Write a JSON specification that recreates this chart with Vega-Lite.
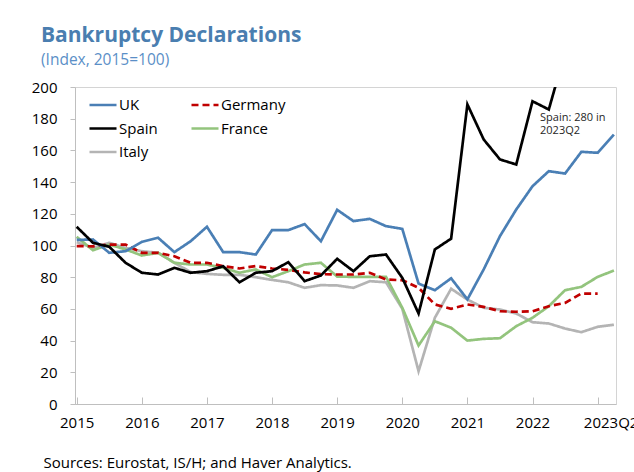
{
  "$schema": "https://vega.github.io/schema/vega-lite/v6.json",
  "width": 541,
  "height": 317,
  "autosize": {"type": "none"},
  "padding": {"left": 75, "top": 87, "right": 18, "bottom": 68},
  "background": "white",
  "config": {
    "font": "Open Sans",
    "view": {"stroke": "#d4d4d4", "strokeWidth": 1}
  },
  "title": {
    "text": "Bankruptcy Declarations",
    "subtitle": "(Index, 2015=100)",
    "anchor": "start",
    "frame": "group",
    "dx": -34,
    "offset": 12,
    "fontSize": 21,
    "fontWeight": "bold",
    "color": "#4a7eb0",
    "subtitleFontSize": 15.5,
    "subtitleColor": "#5b8fc7",
    "subtitlePadding": 7
  },
  "encoding": {
    "x": {
      "field": "t",
      "type": "quantitative",
      "scale": {"domain": [2014.974, 2023.282], "nice": false, "zero": false},
      "axis": {
        "values": [2015, 2016, 2017, 2018, 2019, 2020, 2021, 2022, 2023],
        "format": "d",
        "labelExpr": "datum.value == 2023 ? '2023Q2' : datum.label",
        "labelOffset": {"condition": {"test": "datum.value == 2023", "value": 13}, "value": 0},
        "tickSize": -7,
        "tickColor": "#bfbfbf",
        "domainColor": "#bfbfbf",
        "labelFontSize": 15,
        "labelColor": "#000000",
        "labelPadding": 18,
        "labelFlush": false,
        "labelOverlap": false,
        "grid": false,
        "title": "Sources: Eurostat, IS/H; and Haver Analytics.",
        "titleX": -32,
        "titleY": 58,
        "titleAlign": "left",
        "titleAnchor": "start",
        "titleBaseline": "middle",
        "titleFontWeight": "normal",
        "titleFontSize": 15,
        "titleColor": "#000000"
      }
    },
    "y": {
      "field": "value",
      "type": "quantitative",
      "scale": {"domain": [0, 200], "nice": false},
      "axis": {
        "values": [0, 20, 40, 60, 80, 100, 120, 140, 160, 180, 200],
        "tickSize": 5,
        "tickColor": "#bfbfbf",
        "domainColor": "#bfbfbf",
        "labelPadding": 13,
        "labelFontSize": 15,
        "labelColor": "#000000",
        "labelOverlap": false,
        "labelFlush": false,
        "grid": false,
        "title": null
      }
    }
  },
  "layer": [
    {
      "data": {
        "values": [
          {"t": 2015.00, "UK": 103.5, "Germany": 99.6, "Spain": 111.8, "France": 105.5, "Italy": 102.1},
          {"t": 2015.25, "UK": 103.8, "Germany": 99.5, "Spain": 101.7, "France": 97.0, "Italy": 98.5},
          {"t": 2015.50, "UK": 95.4, "Germany": 100.6, "Spain": 99.2, "France": 100.6, "Italy": 101.7},
          {"t": 2015.75, "UK": 96.4, "Germany": 100.6, "Spain": 89.1, "France": 97.5, "Italy": 98.5},
          {"t": 2016.00, "UK": 102.3, "Germany": 95.4, "Spain": 82.8, "France": 93.7, "Italy": 96.4},
          {"t": 2016.25, "UK": 104.9, "Germany": 95.4, "Spain": 81.7, "France": 95.4, "Italy": 95.4},
          {"t": 2016.50, "UK": 95.8, "Germany": 93.2, "Spain": 85.9, "France": 89.1, "Italy": 89.1},
          {"t": 2016.75, "UK": 102.7, "Germany": 89.1, "Spain": 82.8, "France": 88.0, "Italy": 83.2},
          {"t": 2017.00, "UK": 111.8, "Germany": 89.1, "Spain": 83.8, "France": 88.0, "Italy": 82.1},
          {"t": 2017.25, "UK": 95.8, "Germany": 87.0, "Spain": 86.9, "France": 85.9, "Italy": 81.5},
          {"t": 2017.50, "UK": 95.8, "Germany": 85.5, "Spain": 76.8, "France": 82.8, "Italy": 81.5},
          {"t": 2017.75, "UK": 94.3, "Germany": 87.0, "Spain": 82.8, "France": 84.9, "Italy": 80.0},
          {"t": 2018.00, "UK": 109.7, "Germany": 85.5, "Spain": 83.8, "France": 80.0, "Italy": 78.3},
          {"t": 2018.25, "UK": 109.7, "Germany": 84.6, "Spain": 89.5, "France": 83.8, "Italy": 76.8},
          {"t": 2018.50, "UK": 113.5, "Germany": 83.0, "Spain": 77.5, "France": 88.0, "Italy": 73.3},
          {"t": 2018.75, "UK": 102.7, "Germany": 81.9, "Spain": 81.1, "France": 89.1, "Italy": 75.0},
          {"t": 2019.00, "UK": 122.5, "Germany": 81.7, "Spain": 91.6, "France": 80.4, "Italy": 74.8},
          {"t": 2019.25, "UK": 115.4, "Germany": 81.7, "Spain": 83.8, "France": 80.2, "Italy": 73.3},
          {"t": 2019.50, "UK": 116.8, "Germany": 82.8, "Spain": 93.2, "France": 80.2, "Italy": 77.5},
          {"t": 2019.75, "UK": 112.2, "Germany": 78.5, "Spain": 94.3, "France": 80.2, "Italy": 76.8},
          {"t": 2020.00, "UK": 110.5, "Germany": 78.1, "Spain": 79.6, "France": 60.7, "Italy": 60.1},
          {"t": 2020.25, "UK": 76.0, "Germany": 73.3, "Spain": 57.1, "France": 36.9, "Italy": 20.7},
          {"t": 2020.50, "UK": 71.8, "Germany": 62.8, "Spain": 97.5, "France": 52.2, "Italy": 54.4},
          {"t": 2020.75, "UK": 79.3, "Germany": 60.1, "Spain": 104.3, "France": 48.1, "Italy": 72.7},
          {"t": 2021.00, "UK": 66.0, "Germany": 62.8, "Spain": 189.0, "France": 40.0, "Italy": 65.9},
          {"t": 2021.25, "UK": 84.9, "Germany": 61.3, "Spain": 166.9, "France": 41.1, "Italy": 60.7},
          {"t": 2021.50, "UK": 105.9, "Germany": 58.5, "Spain": 154.3, "France": 41.5, "Italy": 59.6},
          {"t": 2021.75, "UK": 122.7, "Germany": 58.2, "Spain": 151.1, "France": 49.1, "Italy": 57.1},
          {"t": 2022.00, "UK": 137.4, "Germany": 58.5, "Spain": 191.0, "France": 54.4, "Italy": 51.6},
          {"t": 2022.25, "UK": 146.9, "Germany": 61.7, "Spain": 185.8, "France": 61.7, "Italy": 50.8},
          {"t": 2022.50, "UK": 145.4, "Germany": 63.8, "Spain": 222.0, "France": 71.8, "Italy": 47.6},
          {"t": 2022.75, "UK": 159.1, "Germany": 69.7, "Spain": 245.0, "France": 73.9, "Italy": 45.3},
          {"t": 2023.00, "UK": 158.5, "Germany": 69.7, "Spain": 262.0, "France": 80.2, "Italy": 48.7},
          {"t": 2023.25, "UK": 170.0, "Spain": 280.0, "France": 84.2, "Italy": 50.0}
        ]
      },
      "transform": [
        {"fold": ["Italy", "France", "Germany", "UK", "Spain"], "as": ["series", "value"]},
        {"filter": "isValid(datum.value)"}
      ],
      "mark": {"type": "line", "clip": true},
      "encoding": {
        "color": {
          "field": "series",
          "type": "nominal",
          "scale": {
            "domain": ["UK", "Spain", "Italy", "Germany", "France"],
            "range": ["#4a7fb5", "#000000", "#b4b4b4", "#c00000", "#93c47d"]
          },
          "legend": {
            "orient": "none",
            "legendX": 18,
            "legendY": 8,
            "columns": 2,
            "title": null,
            "padding": 0,
            "symbolType": "M-1.6,0H1.6",
            "symbolSize": 285,
            "symbolStrokeWidth": 3,
            "labelFontSize": 15,
            "labelColor": "#000000",
            "labelOffset": 6,
            "columnPadding": 28,
            "rowPadding": 5.5
          }
        },
        "strokeDash": {
          "field": "series",
          "type": "nominal",
          "scale": {
            "domain": ["UK", "Spain", "Italy", "Germany", "France"],
            "range": [[1, 0], [1, 0], [1, 0], [7, 4], [1, 0]]
          }
        },
        "strokeWidth": {
          "field": "series",
          "type": "nominal",
          "scale": {
            "domain": ["UK", "Spain", "Italy", "Germany", "France"],
            "range": [2.7, 2.7, 3.2, 2.7, 2.7]
          },
          "legend": null
        }
      }
    },
    {
      "data": {"values": [{"t": 2022.115, "value": 180.5, "label": "Spain: 280 in\n2023Q2"}]},
      "mark": {"type": "text", "align": "left", "baseline": "middle", "fontSize": 11, "lineBreak": "\n", "lineHeight": 13, "color": "#262626"},
      "encoding": {
        "text": {"field": "label"}
      }
    }
  ]
}
